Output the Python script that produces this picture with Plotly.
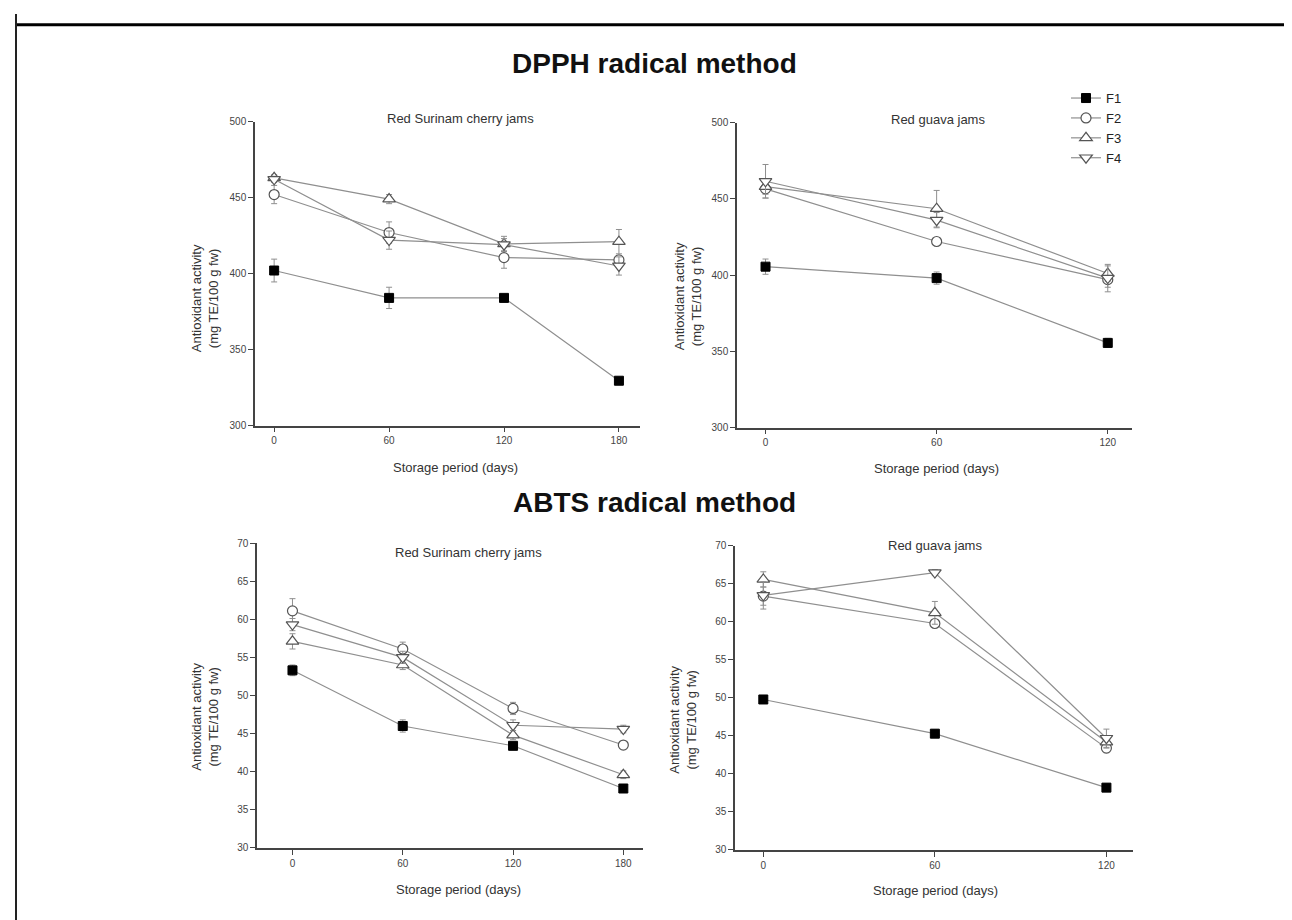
import plotly.graph_objects as go

W, H = 1292, 920

# ---------------- data ----------------
days_cherry = [0, 60, 120, 180]
days_guava = [0, 60, 120]
series_names = ["F1", "F2", "F3", "F4"]

# DPPH - Red Surinam cherry jams
dpph_cherry_F1 = [402, 384, 384, 329.5]
dpph_cherry_F2 = [452, 427, 410.5, 409]
dpph_cherry_F3 = [463, 449, 419.5, 421]
dpph_cherry_F4 = [462, 422, 419, 405]
dpph_cherry_err_F1 = [7.5, 7, 2, 2]
dpph_cherry_err_F2 = [6, 7, 7, 2]
dpph_cherry_err_F3 = [2, 3, 5, 8]
dpph_cherry_err_F4 = [2, 6, 4, 6]

# DPPH - Red guava jams
dpph_guava_F1 = [405.5, 398, 355.5]
dpph_guava_F2 = [456.5, 422, 397]
dpph_guava_F3 = [458, 443.5, 401]
dpph_guava_F4 = [461.5, 436, 398]
dpph_guava_err_F1 = [5, 4, 3]
dpph_guava_err_F2 = [6, 2, 5]
dpph_guava_err_F3 = [5, 12, 5]
dpph_guava_err_F4 = [11, 5, 9]

# ABTS - Red Surinam cherry jams
abts_cherry_F1 = [53.3, 46.0, 43.4, 37.8]
abts_cherry_F2 = [61.1, 56.1, 48.3, 43.5]
abts_cherry_F3 = [57.1, 54.0, 44.8, 39.6]
abts_cherry_F4 = [59.3, 55.0, 46.1, 45.6]
abts_cherry_err_F1 = [0.7, 0.8, 0.5, 0.5]
abts_cherry_err_F2 = [1.6, 0.9, 0.8, 0.5]
abts_cherry_err_F3 = [1.0, 0.6, 0.6, 0.5]
abts_cherry_err_F4 = [0.8, 0.8, 0.7, 0.5]

# ABTS - Red guava jams
abts_guava_F1 = [49.8, 45.3, 38.2]
abts_guava_F2 = [63.4, 59.8, 43.4]
abts_guava_F3 = [65.6, 61.2, 44.2]
abts_guava_F4 = [63.5, 66.5, 44.7]
abts_guava_err_F1 = [0.5, 0.5, 0.5]
abts_guava_err_F2 = [1.2, 0.5, 0.6]
abts_guava_err_F3 = [1.0, 1.5, 0.8]
abts_guava_err_F4 = [1.8, 0.4, 1.2]

dpph_ticks = [300, 350, 400, 450, 500]
abts_ticks = [30, 35, 40, 45, 50, 55, 60, 65, 70]

# ---------------- helpers ----------------
def px(x):
    return x / W

def py(y):
    return 1 - y / H

styles = {
    "F1": dict(symbol="square", size=9, color="#000000", line=dict(color="#000000", width=1)),
    "F2": dict(symbol="circle", size=10, color="#ffffff", line=dict(color="#555555", width=1.2)),
    "F3": dict(symbol="triangle-up", size=11, color="#ffffff", line=dict(color="#555555", width=1.2)),
    "F4": dict(symbol="triangle-down", size=11, color="#ffffff", line=dict(color="#555555", width=1.2)),
}

panels = [
    dict(ax="", days=days_cherry,
         vals=[dpph_cherry_F1, dpph_cherry_F2, dpph_cherry_F3, dpph_cherry_F4],
         errs=[dpph_cherry_err_F1, dpph_cherry_err_F2, dpph_cherry_err_F3, dpph_cherry_err_F4],
         xd=(247, 632), yd=(109, 417), xr=[-10, 191], yr=[300, 500], yt=dpph_ticks,
         title="Red Surinam cherry jams", tpos=(452, 106), ytpos=(197, 288), xtpos=(447, 459), legend=False),
    dict(ax="2", days=days_guava,
         vals=[dpph_guava_F1, dpph_guava_F2, dpph_guava_F3, dpph_guava_F4],
         errs=[dpph_guava_err_F1, dpph_guava_err_F2, dpph_guava_err_F3, dpph_guava_err_F4],
         xd=(729, 1124), yd=(110, 419), xr=[-10, 128.5], yr=[300, 500], yt=dpph_ticks,
         title="Red guava jams", tpos=(930, 107), ytpos=(680, 286), xtpos=(928, 460), legend=True),
    dict(ax="3", days=days_cherry,
         vals=[abts_cherry_F1, abts_cherry_F2, abts_cherry_F3, abts_cherry_F4],
         errs=[abts_cherry_err_F1, abts_cherry_err_F2, abts_cherry_err_F3, abts_cherry_err_F4],
         xd=(249, 635), yd=(536, 845), xr=[-19.3, 190.7], yr=[30, 70], yt=abts_ticks,
         title="Red Surinam cherry jams", tpos=(460, 546), ytpos=(197, 712), xtpos=(450, 887), legend=False),
    dict(ax="4", days=days_guava,
         vals=[abts_guava_F1, abts_guava_F2, abts_guava_F3, abts_guava_F4],
         errs=[abts_guava_err_F1, abts_guava_err_F2, abts_guava_err_F3, abts_guava_err_F4],
         xd=(727, 1125), yd=(539, 847), xr=[-9.9, 129.3], yr=[30, 70], yt=abts_ticks,
         title="Red guava jams", tpos=(927, 539), ytpos=(675, 715), xtpos=(927, 888), legend=False),
]

fig = go.Figure()
layout = dict(
    width=W, height=H,
    margin=dict(l=0, r=0, t=0, b=0),
    paper_bgcolor="white", plot_bgcolor="white",
    font=dict(family="Liberation Sans, Arial, sans-serif", color="#333333"),
    showlegend=True,
    legend=dict(x=px(1058), y=py(70), xanchor="left", yanchor="top",
                bgcolor="rgba(0,0,0,0)", font=dict(size=13, color="#222222"),
                tracegroupgap=0, itemwidth=30),
)
annotations = []

for p in panels:
    ax = p["ax"]
    xa = "x" + ax
    ya = "y" + ax
    for name, vals, errs in zip(series_names, p["vals"], p["errs"]):
        st = styles[name]
        fig.add_trace(go.Scatter(
            x=p["days"], y=vals, name=name, mode="lines+markers",
            xaxis=xa, yaxis=ya,
            line=dict(color="#8f8f8f", width=1.2),
            marker=dict(symbol=st["symbol"], size=st["size"], color=st["color"], line=st["line"]),
            error_y=dict(type="data", array=errs, visible=True, color="#8f8f8f", thickness=1, width=3),
            showlegend=p["legend"],
        ))
    axis_common = dict(showline=True, linecolor="#444444", linewidth=1.5, ticks="outside",
                       ticklen=5, tickcolor="#444444", tickwidth=1.2, showgrid=False, zeroline=False,
                       tickfont=dict(size=10, color="#444444"))
    layout["xaxis" + ax] = dict(domain=[px(p["xd"][0]), px(p["xd"][1])], range=p["xr"],
                                tickvals=p["days"], anchor=ya, **axis_common)
    layout["yaxis" + ax] = dict(domain=[py(p["yd"][1]), py(p["yd"][0])], range=p["yr"],
                                tickvals=p["yt"], anchor=xa, **axis_common)
    annotations.append(dict(text=p["title"], x=px(p["tpos"][0]), y=py(p["tpos"][1]), xref="paper", yref="paper",
                            showarrow=False, font=dict(size=13, color="#333333"), xanchor="center", yanchor="middle"))
    annotations.append(dict(text="Antioxidant activity<br>(mg TE/100 g fw)", x=px(p["ytpos"][0]), y=py(p["ytpos"][1]),
                            xref="paper", yref="paper", showarrow=False, textangle=-90,
                            font=dict(size=13, color="#333333"), xanchor="center", yanchor="middle"))
    annotations.append(dict(text="Storage period (days)", x=px(p["xtpos"][0]), y=py(p["xtpos"][1]),
                            xref="paper", yref="paper", showarrow=False,
                            font=dict(size=13, color="#333333"), xanchor="center", yanchor="middle"))

annotations.append(dict(text="<b>DPPH radical method</b>", x=px(646), y=py(50), xref="paper", yref="paper",
                        showarrow=False, font=dict(size=28, color="#111111"), xanchor="center", yanchor="middle"))
annotations.append(dict(text="<b>ABTS radical method</b>", x=px(646), y=py(495), xref="paper", yref="paper",
                        showarrow=False, font=dict(size=28, color="#111111"), xanchor="center", yanchor="middle"))

layout["annotations"] = annotations
layout["shapes"] = [
    dict(type="line", xref="paper", yref="paper", x0=px(8), x1=1, y0=py(11), y1=py(11),
         line=dict(color="#000000", width=3)),
    dict(type="line", xref="paper", yref="paper", x0=px(8), x1=px(8), y0=0, y1=1,
         line=dict(color="#222222", width=2)),
]
fig.update_layout(**layout)
fig.write_html("out.html")
